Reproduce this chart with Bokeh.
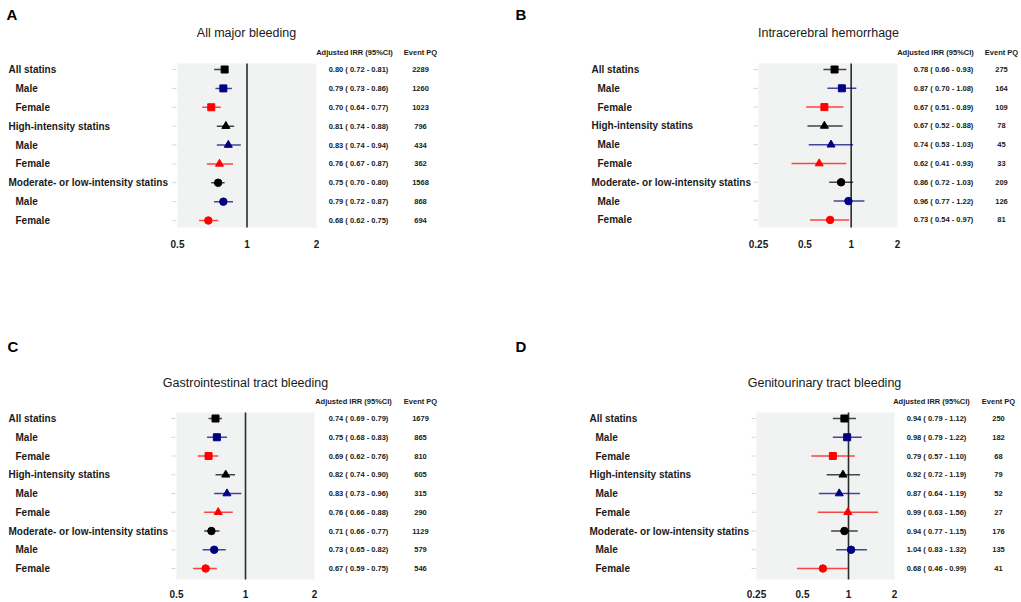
import math
from bokeh.plotting import figure
from bokeh.models import Range1d, FixedTicker, NumeralTickFormatter
from bokeh.layouts import column, row
from bokeh.core.properties import value
from bokeh.embed import file_html
from bokeh.resources import INLINE

# ---------------- data ----------------
rows = ["All statins", "Male", "Female",
        "High-intensity statins", "Male", "Female",
        "Moderate- or low-intensity statins", "Male", "Female"]
levels = [0, 1, 1, 0, 1, 1, 0, 1, 1]
row_markers = ["square"] * 3 + ["triangle"] * 3 + ["circle"] * 3
row_colors = ["#000000", "#000080", "#FF0000"] * 3

titles = ["All major bleeding", "Intracerebral hemorrhage",
          "Gastrointestinal tract bleeding", "Genitourinary tract bleeding"]
letters = ["A", "B", "C", "D"]
header_irr = "Adjusted IRR (95%CI)"
header_ev = "Event PQ"

ticks_ac = [0.5, 1, 2]
ticks_bd = [0.25, 0.5, 1, 2]

a_irr = [0.80, 0.79, 0.70, 0.81, 0.83, 0.76, 0.75, 0.79, 0.68]
a_lo = [0.72, 0.73, 0.64, 0.74, 0.74, 0.67, 0.70, 0.72, 0.62]
a_hi = [0.81, 0.86, 0.77, 0.88, 0.94, 0.87, 0.80, 0.87, 0.75]
a_ev = [2289, 1260, 1023, 796, 434, 362, 1568, 868, 694]

b_irr = [0.78, 0.87, 0.67, 0.67, 0.74, 0.62, 0.86, 0.96, 0.73]
b_lo = [0.66, 0.70, 0.51, 0.52, 0.53, 0.41, 0.72, 0.77, 0.54]
b_hi = [0.93, 1.08, 0.89, 0.88, 1.03, 0.93, 1.03, 1.22, 0.97]
b_ev = [275, 164, 109, 78, 45, 33, 209, 126, 81]

c_irr = [0.74, 0.75, 0.69, 0.82, 0.83, 0.76, 0.71, 0.73, 0.67]
c_lo = [0.69, 0.68, 0.62, 0.74, 0.73, 0.66, 0.66, 0.65, 0.59]
c_hi = [0.79, 0.83, 0.76, 0.90, 0.96, 0.88, 0.77, 0.82, 0.75]
c_ev = [1679, 865, 810, 605, 315, 290, 1129, 579, 546]

d_irr = [0.94, 0.98, 0.79, 0.92, 0.87, 0.99, 0.94, 1.04, 0.68]
d_lo = [0.79, 0.79, 0.57, 0.72, 0.64, 0.63, 0.77, 0.83, 0.46]
d_hi = [1.12, 1.22, 1.10, 1.19, 1.19, 1.56, 1.15, 1.32, 0.99]
d_ev = [250, 182, 68, 79, 52, 27, 176, 135, 41]

# ---------------- layout (pixels inside each figure) ----------------
FONT = value("Liberation Sans")
TXT = "#1a1a1a"

geo_a = dict(W=510, H=300, px_lo=177, px_hi=316, frame_bottom=235, row_top=69, step=18.875,
             grey_top=63, grey_bot=227, label_x=8, indent=7, title=(246, 32), letter=(6, 14),
             header_y=52, irr_hdr=354, irr_val=358, ev_x=420)
geo_b = dict(W=510, H=300, px_lo=248, px_hi=387, frame_bottom=235, row_top=69, step=18.8,
             grey_top=63, grey_bot=227, label_x=81, indent=6, title=(318, 32), letter=(5, 14),
             header_y=52, irr_hdr=425, irr_val=433, ev_x=491)
geo_c = dict(W=510, H=301, px_lo=176, px_hi=314, frame_bottom=285, row_top=118, step=18.75,
             grey_top=112, grey_bot=279, label_x=8, indent=7, title=(245, 82), letter=(7, 46),
             header_y=101, irr_hdr=353, irr_val=358, ev_x=420)
geo_d = dict(W=510, H=301, px_lo=246, px_hi=384, frame_bottom=285, row_top=118, step=18.75,
             grey_top=112, grey_bot=279, label_x=79, indent=6, title=(314, 82), letter=(5, 46),
             header_y=101, irr_hdr=421, irr_val=426, ev_x=488)


def panel(letter, title, irr, lo, hi, ev, ticks, g):
    W, H = g["W"], g["H"]
    n = len(rows)
    step = g["step"]

    def ypx(px):
        return n - (px - g["row_top"]) / step

    l0, l1 = math.log(ticks[0]), math.log(ticks[-1])

    def xpx(px):
        return math.exp(l0 + (px - g["px_lo"]) / (g["px_hi"] - g["px_lo"]) * (l1 - l0))

    p = figure(width=W, height=H, x_axis_type="log",
               x_range=Range1d(xpx(0), xpx(W)),
               y_range=Range1d(ypx(g["frame_bottom"]), ypx(0)),
               output_backend="svg", toolbar_location=None,
               min_border=0, min_border_bottom=H - g["frame_bottom"],
               y_axis_location=None, outline_line_color=None,
               background_fill_color="white", border_fill_color="white")
    p.xgrid.visible = False
    p.ygrid.visible = False

    ax = p.xaxis[0]
    ax.ticker = FixedTicker(ticks=ticks, minor_ticks=[])
    ax.formatter = NumeralTickFormatter(format="0.[00]")
    ax.axis_line_color = None
    ax.major_tick_line_color = None
    ax.minor_tick_line_color = None
    ax.major_tick_out = 0
    ax.minor_tick_out = 0
    ax.major_label_standoff = 4
    ax.major_label_text_font = "Liberation Sans"
    ax.major_label_text_font_style = "bold"
    ax.major_label_text_font_size = "10px"
    ax.major_label_text_color = TXT

    ys = [n - i for i in range(n)]

    # panel background
    p.quad(left=ticks[0], right=ticks[-1], bottom=ypx(g["grey_bot"]), top=ypx(g["grey_top"]),
           fill_color="#F1F2F2", line_color=None)
    # small y ticks
    p.segment(x0=[xpx(g["px_lo"] - 5)] * n, x1=[xpx(g["px_lo"] - 1)] * n, y0=ys, y1=ys,
              line_color="#d4d4d4", line_width=1)
    # reference line
    p.segment(x0=[1], x1=[1], y0=[ypx(g["grey_bot"])], y1=[ypx(g["grey_top"])],
              line_color="#2b2b2b", line_width=1.6)
    # CIs
    p.segment(x0=lo, x1=hi, y0=ys, y1=ys, line_color=row_colors, line_width=1.5, line_alpha=0.72)
    sizes = [7 if m == "square" else 8 if m == "triangle" else 7.5 for m in row_markers]
    p.scatter(x=irr, y=ys, marker=row_markers, size=sizes, fill_color=row_colors,
              line_color=row_colors)

    # row labels
    lx = [xpx(g["label_x"] + g["indent"] * lv) for lv in levels]
    p.text(x=lx, y=ys, text=rows, text_font=FONT, text_font_size="10px", text_font_style="bold",
           text_color=TXT, text_align="left", text_baseline="middle")

    # numeric columns
    irr_txt = [f"{v:.2f} ( {a:.2f} - {b:.2f})" for v, a, b in zip(irr, lo, hi)]
    p.text(x=[xpx(g["irr_val"])] * n, y=ys, text=irr_txt, text_font=FONT, text_font_size="7.5px",
           text_font_style="bold", text_color=TXT, text_align="center", text_baseline="middle")
    p.text(x=[xpx(g["ev_x"])] * n, y=ys, text=[str(e) for e in ev], text_font=FONT,
           text_font_size="7.5px", text_font_style="bold", text_color=TXT, text_align="center",
           text_baseline="middle")
    hy = ypx(g["header_y"])
    p.text(x=[xpx(g["irr_hdr"]), xpx(g["ev_x"])], y=[hy, hy], text=[header_irr, header_ev],
           text_font=FONT, text_font_size="7.5px", text_font_style="bold", text_color=TXT,
           text_align="center", text_baseline="middle")

    # title & letter
    tx, ty = g["title"]
    p.text(x=[xpx(tx)], y=[ypx(ty)], text=[title], text_font=FONT, text_font_size="12.5px",
           text_color=TXT, text_align="center", text_baseline="middle")
    lx0, ly0 = g["letter"]
    p.text(x=[xpx(lx0)], y=[ypx(ly0)], text=[letter], text_font=FONT, text_font_size="15px",
           text_font_style="bold", text_color="#000000", text_align="left", text_baseline="middle")
    return p


pa = panel(letters[0], titles[0], a_irr, a_lo, a_hi, a_ev, ticks_ac, geo_a)
pb = panel(letters[1], titles[1], b_irr, b_lo, b_hi, b_ev, ticks_bd, geo_b)
pc = panel(letters[2], titles[2], c_irr, c_lo, c_hi, c_ev, ticks_ac, geo_c)
pd = panel(letters[3], titles[3], d_irr, d_lo, d_hi, d_ev, ticks_bd, geo_d)

layout = column(row(pa, pb), row(pc, pd))
open("out.html", "w").write(file_html(layout, INLINE))
